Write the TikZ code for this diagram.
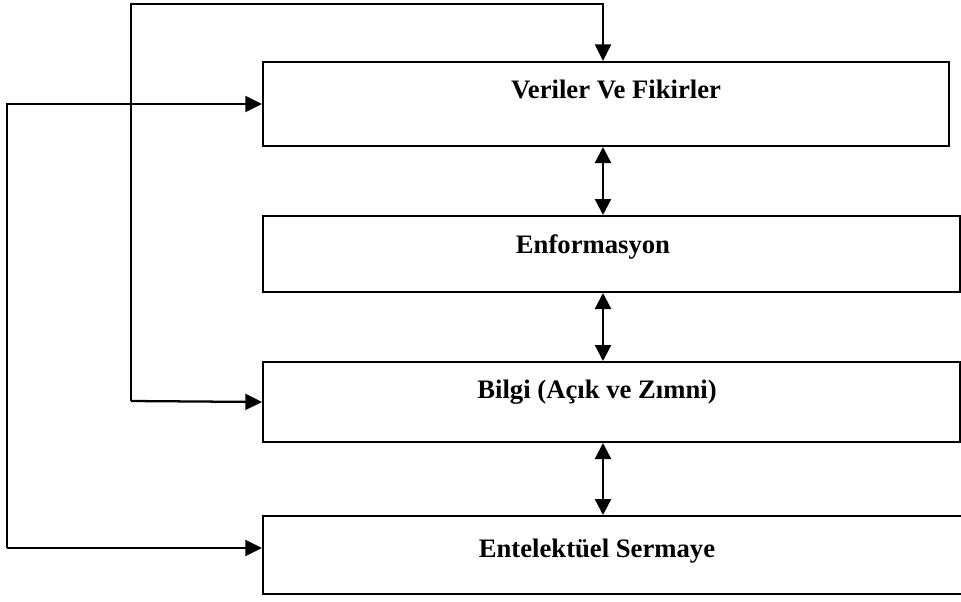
\documentclass[tikz,border=0pt]{standalone}
\usepackage{fontspec}
\setmainfont{Liberation Serif}
\usetikzlibrary{arrows.meta,positioning,calc}
\tikzset{
  knbox/.style={draw,line width=1.5pt,minimum width=514.5pt,minimum height=63pt,inner sep=0pt},
  kntext/.style={font=\fontsize{20}{24}\selectfont\bfseries,anchor=base,inner sep=0pt},
  knflow/.style={-{Triangle[length=12.5pt,width=12pt]},line width=1.7pt},
  knboth/.style={{Triangle[length=12pt,width=12pt]}-{Triangle[length=12pt,width=12pt]},line width=1.7pt},
}

\begin{document}
\begin{tikzpicture}[x=0.75pt,y=-0.75pt]
\useasboundingbox (0,0) rectangle (961,601);
% boxes
\node[knbox] (vf) at (606,104) {};
\node[knbox,minimum width=522.75pt,minimum height=57pt] (en) at (611.5,254) {};
\node[knbox,minimum width=522.75pt,minimum height=60pt] (bz) at (611.5,402) {};
\node[knbox,minimum width=526.5pt,minimum height=58.5pt] (es) at (614,555) {};
\node[kntext] (vft) at (616,98) {Veriler Ve Fikirler};
\node[kntext] (ent) at (593,253) {Enformasyon};
\node[kntext] (bzt) at (597,398) {Bilgi (Açık ve Zımni)};
\node[kntext] (est) at (597,557) {Entelektüel Sermaye};
% loops
\coordinate (col) at (603,0);
\coordinate (tt) at (603,4);
\coordinate (tl) at (131,401);
\coordinate (lb) at (7,548);
\draw[knflow] (tl) |- (tt) -- (vf.north -| col);
\draw[knflow] (tl) -- (bz.west);
\draw[knflow] (lb) |- (vf.west);
\draw[knflow] (lb) -- (es.west |- lb);
% between boxes
\draw[knboth] (vf.south -| col) -- (en.north -| col);
\draw[knboth] (en.south -| col) -- (bz.north -| col);
\draw[knboth] (bz.south -| col) -- (es.north -| col);
\end{tikzpicture}
\end{document}
